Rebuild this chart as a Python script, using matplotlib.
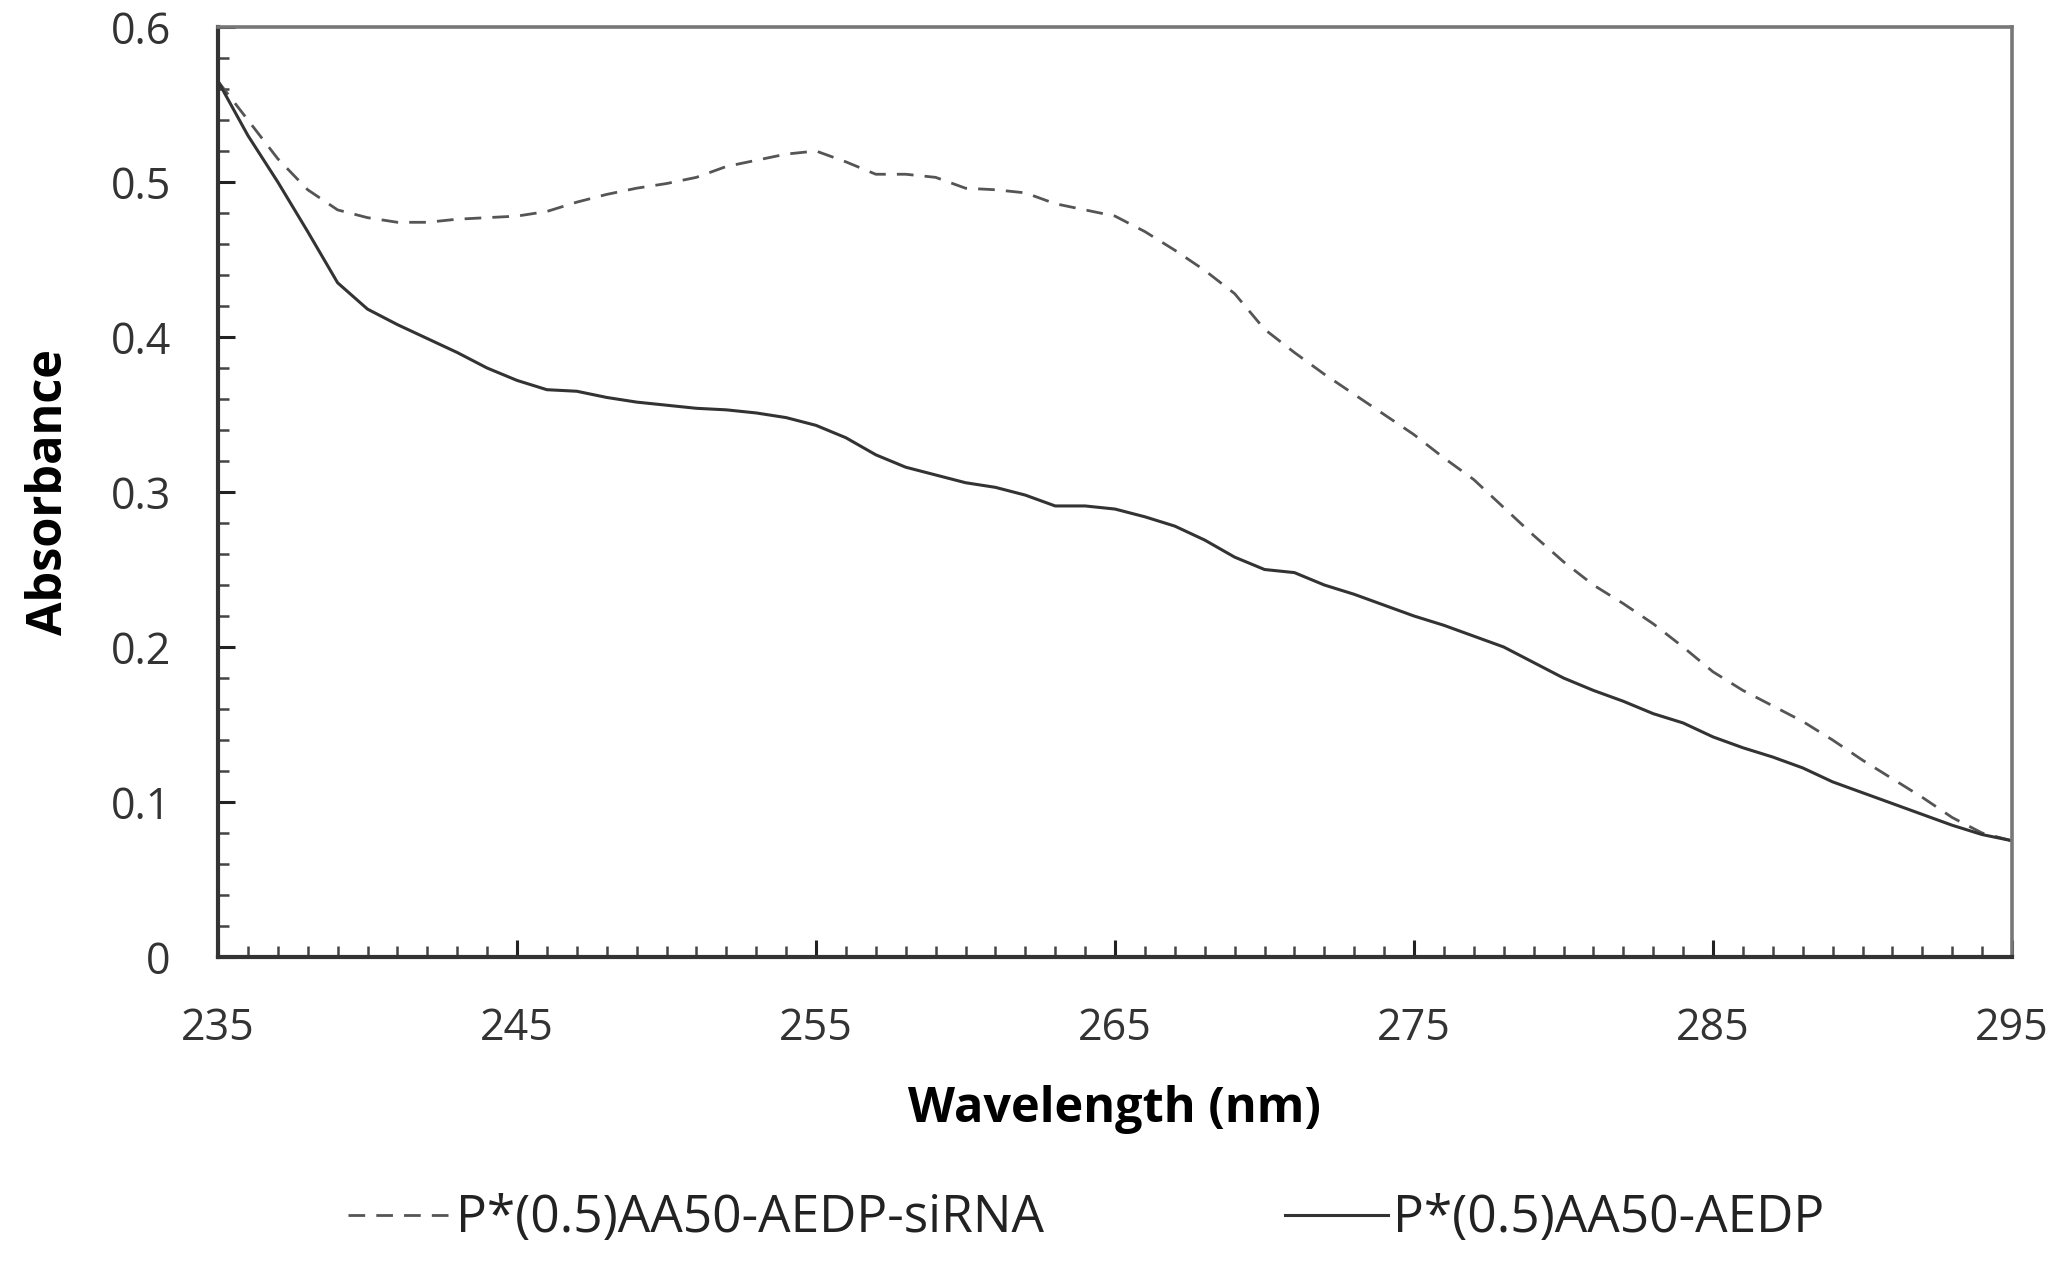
import matplotlib
matplotlib.use("Agg")
import matplotlib.pyplot as plt
from matplotlib.ticker import MultipleLocator
import numpy as np

wavelength = list(range(235, 296))

absorb_sirna = [0.565, 0.540, 0.515, 0.495, 0.482, 0.477, 0.474, 0.474, 0.476, 0.477,
                0.478, 0.481, 0.487, 0.492, 0.496, 0.499, 0.503, 0.510, 0.514, 0.518,
                0.520, 0.513, 0.505, 0.505, 0.503, 0.496, 0.495, 0.493, 0.486, 0.482,
                0.478, 0.468, 0.456, 0.443, 0.428, 0.405, 0.390, 0.376, 0.363, 0.350,
                0.337, 0.322, 0.308, 0.290, 0.272, 0.255, 0.240, 0.228, 0.215, 0.200,
                0.184, 0.172, 0.162, 0.152, 0.140, 0.127, 0.115, 0.103, 0.090, 0.080,
                0.075]

absorb_aedp = [0.565, 0.530, 0.500, 0.468, 0.435, 0.418, 0.408, 0.399, 0.390, 0.380,
               0.372, 0.366, 0.365, 0.361, 0.358, 0.356, 0.354, 0.353, 0.351, 0.348,
               0.343, 0.335, 0.324, 0.316, 0.311, 0.306, 0.303, 0.298, 0.291, 0.291,
               0.289, 0.284, 0.278, 0.269, 0.258, 0.250, 0.248, 0.240, 0.234, 0.227,
               0.220, 0.214, 0.207, 0.200, 0.190, 0.180, 0.172, 0.165, 0.157, 0.151,
               0.142, 0.135, 0.129, 0.122, 0.113, 0.106, 0.099, 0.092, 0.085, 0.079,
               0.075]

labels = ['P*(0.5)AA50-AEDP-siRNA', 'P*(0.5)AA50-AEDP']
xticks = [235, 245, 255, 265, 275, 285, 295]
yticks = [0, 0.1, 0.2, 0.3, 0.4, 0.5, 0.6]
yticklabels = ['0', '0.1', '0.2', '0.3', '0.4', '0.5', '0.6']

plt.rcParams["font.family"] = ["Open Sans", "DejaVu Sans"]

fig = plt.figure(figsize=(20.6, 12.63), dpi=100)
ax = fig.add_axes([218/2060, 1-957/1263, (2012-218)/2060, (957-27)/1263])

ax.plot(wavelength, absorb_sirna, linestyle=(0, (6, 4)), color='#555555',
        linewidth=2.0, label=labels[0])
ax.plot(wavelength, absorb_aedp, '-', color='#333333', linewidth=2.2, label=labels[1])

ax.set_xlim(235, 295)
ax.set_ylim(0, 0.6)
ax.set_xticks(xticks)
ax.xaxis.set_minor_locator(MultipleLocator(1))
ax.set_yticks(yticks)
ax.set_yticklabels(yticklabels)
ax.yaxis.set_minor_locator(MultipleLocator(0.02))

ax.tick_params(which='major', direction='in', length=12, width=2.2, color='#222222',
               labelsize=31, labelcolor='#333333')
ax.tick_params(which='minor', direction='in', length=8, width=1.8, color='#444444')
ax.tick_params(axis='x', which='major', pad=36)
ax.tick_params(axis='y', which='major', pad=34)

for s in ['left', 'bottom']:
    ax.spines[s].set_linewidth(3.0)
    ax.spines[s].set_color('#333333')
for s in ['top', 'right']:
    ax.spines[s].set_linewidth(2.6)
    ax.spines[s].set_color('#777777')

ax.set_xlabel('Wavelength (nm)', fontsize=35, fontweight='bold', labelpad=24)
ax.set_ylabel('Absorbance', fontsize=35, fontweight='bold', labelpad=26)

fig.legend(loc='center', bbox_to_anchor=(1086/2060, 1-1219/1263), ncol=2,
           fontsize=37, frameon=False, handlelength=2.0, handletextpad=0.1,
           columnspacing=4.7, labelcolor='#222222')

fig.savefig('out.png', dpi=100)
